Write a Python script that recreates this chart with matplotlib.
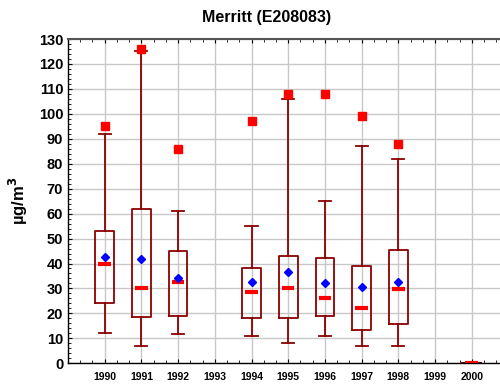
import matplotlib
matplotlib.use("Agg")
import matplotlib.pyplot as plt
from matplotlib.ticker import MultipleLocator, AutoMinorLocator

plt.rcParams['font.family'] = ['Liberation Sans', 'DejaVu Sans']

# Annual PM10 summary statistics (µg/m³)
years = [1990, 1991, 1992, 1993, 1994, 1995, 1996, 1997, 1998, 1999, 2000]
stat_years = [1990, 1991, 1992, 1994, 1995, 1996, 1997, 1998, 2000]
whisker_low = [12, 7, 11.6, 10.9, 8, 10.8, 6.8, 7, 0]
q1 = [24, 18.6, 18.8, 18.2, 18.2, 19, 13.2, 15.6, 0]
median = [39.7, 30, 32.5, 28.6, 30, 26, 22, 29.7, 0]
q3 = [53, 62, 44.9, 38, 42.9, 42.1, 38.9, 45.5, 0]
whisker_high = [92, 125.2, 61, 55, 106, 65, 87, 82, 0]
mean = [42.6, 41.8, 34, 32.5, 36.5, 32, 30.5, 32.5, None]
maximum = [95, 126, 86, 97, 108, 108, 99, 88, None]

stats = []
for i in range(len(stat_years)):
    stats.append({
        'whislo': whisker_low[i], 'q1': q1[i], 'med': median[i],
        'q3': q3[i], 'whishi': whisker_high[i],
        'fliers': [] if maximum[i] is None else [maximum[i]],
    })

dark_red = '#8b0000'

fig = plt.figure(figsize=(5, 3.85), dpi=100)
ax = fig.add_axes([0.136, 0.0564, 0.864, 0.8423])

parts = ax.bxp(stats, positions=stat_years, widths=0.51, showmeans=False,
               showfliers=True, patch_artist=False,
               boxprops=dict(color=dark_red, linewidth=1.3),
               whiskerprops=dict(color=dark_red, linewidth=1.3),
               capprops=dict(color=dark_red, linewidth=1.3),
               capwidths=0.33,
               medianprops=dict(color='#ff0000', linewidth=3,
                                solid_capstyle='butt'),
               flierprops=dict(marker='s', markerfacecolor='#ff0000',
                               markeredgecolor='#ff0000', markersize=5.5))

# shorter median bars, centred on each box
for pos, line in zip(stat_years, parts['medians']):
    line.set_xdata([pos - 0.17, pos + 0.17])
    line.set_zorder(3)

# annual means as blue diamonds
mx = [y for y, m in zip(stat_years, mean) if m is not None]
my = [m for m in mean if m is not None]
ax.plot(mx, my, linestyle='none', marker='D', markerfacecolor='#0000ff',
        markeredgecolor='#0000ff', markersize=4.5, zorder=4)

ax.set_xlim(1989, 2000.77)
ax.set_ylim(0, 130)
ax.set_xticks(years)
ax.set_xticklabels([str(y) for y in years], fontsize=7.5, fontweight='bold')
ax.yaxis.set_major_locator(MultipleLocator(10))
ax.yaxis.set_minor_locator(AutoMinorLocator(5))
ax.xaxis.set_minor_locator(AutoMinorLocator(3))
for lbl in ax.get_yticklabels():
    lbl.set_fontsize(10.5)
    lbl.set_fontweight('bold')

ax.tick_params(axis='both', which='both', direction='in', top=True, right=False)
ax.tick_params(axis='both', which='major', length=3, width=0.8)
ax.tick_params(axis='both', which='minor', length=2, width=0.6)
ax.tick_params(axis='x', pad=6)

ax.grid(True, which='major', color='#c8c8c8', linewidth=1.0)
ax.set_axisbelow(True)
for side in ('left', 'bottom'):
    ax.spines[side].set_color('black')
    ax.spines[side].set_linewidth(1.0)
ax.spines['top'].set_color('#555555')
ax.spines['top'].set_linewidth(1.5)
ax.spines['right'].set_visible(False)

ax.set_ylabel('µg/m$^\\mathbf{3}$', fontsize=12, fontweight='bold', labelpad=6)
fig.text(0.534, 0.955, 'Merritt (E208083)', ha='center', va='center',
         fontsize=11.5, fontweight='bold')

fig.savefig('out.png', dpi=100)
